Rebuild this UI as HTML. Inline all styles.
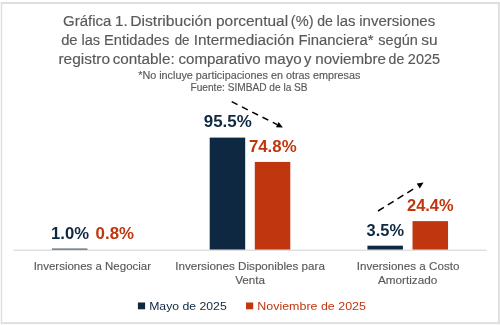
<!DOCTYPE html>
<html><head><meta charset="utf-8"><style>
html,body{margin:0;padding:0;background:#fff;width:500px;height:325px;overflow:hidden;}
svg{display:block;position:absolute;left:0;top:0;font-family:"Liberation Sans", sans-serif;}
#c{filter:blur(0.35px);}
</style></head><body>
<svg width="500" height="325" viewBox="0 0 500 325">
<rect x="0.8" y="2" width="1.4" height="322.2" fill="#dedede"/>
<rect x="498" y="2" width="1.8" height="322.2" fill="#dedede"/>
<rect x="0.8" y="2" width="499" height="2" fill="#dedede"/>
<rect x="0.8" y="322.2" width="499" height="1.9" fill="#dedede"/>
</svg>
<svg id="c" width="500" height="325" viewBox="0 0 500 325">
<text x="63.05" y="26.00" font-size="14" font-weight="normal" fill="#595959" stroke="#595959" stroke-width="0.15" textLength="48.38" lengthAdjust="spacingAndGlyphs">Gráfica</text>
<text x="115.02" y="26.00" font-size="14" font-weight="normal" fill="#595959" stroke="#595959" stroke-width="0.15" textLength="12.55" lengthAdjust="spacingAndGlyphs">1.</text>
<text x="130.17" y="26.00" font-size="14" font-weight="normal" fill="#595959" stroke="#595959" stroke-width="0.15" textLength="81.88" lengthAdjust="spacingAndGlyphs">Distribución</text>
<text x="216.01" y="26.00" font-size="14" font-weight="normal" fill="#595959" stroke="#595959" stroke-width="0.15" textLength="72.07" lengthAdjust="spacingAndGlyphs">porcentual</text>
<text x="290.86" y="26.00" font-size="14" font-weight="normal" fill="#595959" stroke="#595959" stroke-width="0.15" textLength="22.64" lengthAdjust="spacingAndGlyphs">(%)</text>
<text x="317.20" y="26.00" font-size="14" font-weight="normal" fill="#595959" stroke="#595959" stroke-width="0.15" textLength="15.68" lengthAdjust="spacingAndGlyphs">de</text>
<text x="336.44" y="26.00" font-size="14" font-weight="normal" fill="#595959" stroke="#595959" stroke-width="0.15" textLength="19.09" lengthAdjust="spacingAndGlyphs">las</text>
<text x="359.24" y="26.00" font-size="14" font-weight="normal" fill="#595959" stroke="#595959" stroke-width="0.15" textLength="75.92" lengthAdjust="spacingAndGlyphs">inversiones</text>
<text x="61.17" y="45.30" font-size="14" font-weight="normal" fill="#595959" stroke="#595959" stroke-width="0.15" textLength="16.44" lengthAdjust="spacingAndGlyphs">de</text>
<text x="81.46" y="45.30" font-size="14" font-weight="normal" fill="#595959" stroke="#595959" stroke-width="0.15" textLength="18.66" lengthAdjust="spacingAndGlyphs">las</text>
<text x="104.05" y="45.30" font-size="14" font-weight="normal" fill="#595959" stroke="#595959" stroke-width="0.15" textLength="65.24" lengthAdjust="spacingAndGlyphs">Entidades</text>
<text x="174.63" y="45.30" font-size="14" font-weight="normal" fill="#595959" stroke="#595959" stroke-width="0.15" textLength="14.81" lengthAdjust="spacingAndGlyphs">de</text>
<text x="193.78" y="45.30" font-size="14" font-weight="normal" fill="#595959" stroke="#595959" stroke-width="0.15" textLength="100.44" lengthAdjust="spacingAndGlyphs">Intermediación</text>
<text x="298.44" y="45.30" font-size="14" font-weight="normal" fill="#595959" stroke="#595959" stroke-width="0.15" textLength="74.99" lengthAdjust="spacingAndGlyphs">Financiera*</text>
<text x="378.39" y="45.30" font-size="14" font-weight="normal" fill="#595959" stroke="#595959" stroke-width="0.15" textLength="39.39" lengthAdjust="spacingAndGlyphs">según</text>
<text x="421.16" y="45.30" font-size="14" font-weight="normal" fill="#595959" stroke="#595959" stroke-width="0.15" textLength="16.33" lengthAdjust="spacingAndGlyphs">su</text>
<text x="58.40" y="64.10" font-size="14" font-weight="normal" fill="#595959" stroke="#595959" stroke-width="0.15" textLength="51.64" lengthAdjust="spacingAndGlyphs">registro</text>
<text x="112.75" y="64.10" font-size="14" font-weight="normal" fill="#595959" stroke="#595959" stroke-width="0.15" textLength="61.89" lengthAdjust="spacingAndGlyphs">contable:</text>
<text x="178.55" y="64.10" font-size="14" font-weight="normal" fill="#595959" stroke="#595959" stroke-width="0.15" textLength="82.04" lengthAdjust="spacingAndGlyphs">comparativo</text>
<text x="264.63" y="64.10" font-size="14" font-weight="normal" fill="#595959" stroke="#595959" stroke-width="0.15" textLength="37.06" lengthAdjust="spacingAndGlyphs">mayo</text>
<text x="304.09" y="64.10" font-size="14" font-weight="normal" fill="#595959" stroke="#595959" stroke-width="0.15" textLength="7.41" lengthAdjust="spacingAndGlyphs">y</text>
<text x="315.23" y="64.10" font-size="14" font-weight="normal" fill="#595959" stroke="#595959" stroke-width="0.15" textLength="70.69" lengthAdjust="spacingAndGlyphs">noviembre</text>
<text x="388.60" y="64.10" font-size="14" font-weight="normal" fill="#595959" stroke="#595959" stroke-width="0.15" textLength="15.68" lengthAdjust="spacingAndGlyphs">de</text>
<text x="407.88" y="64.10" font-size="14" font-weight="normal" fill="#595959" stroke="#595959" stroke-width="0.15" textLength="32.19" lengthAdjust="spacingAndGlyphs">2025</text>
<text x="249.30" y="78.60" text-anchor="middle" font-size="10" font-weight="normal" fill="#595959" stroke="#595959" stroke-width="0.15" textLength="222.20" lengthAdjust="spacingAndGlyphs">*No incluye participaciones en otras empresas</text>
<text x="249.05" y="91.30" text-anchor="middle" font-size="10" font-weight="normal" fill="#595959" stroke="#595959" stroke-width="0.15" textLength="117.10" lengthAdjust="spacingAndGlyphs">Fuente: SIMBAD de la SB</text>
<rect x="51.96650000000001" y="248.63" width="35.50" height="1.17" fill="#0E2841"/>
<rect x="209.6995" y="137.60" width="35.50" height="112.20" fill="#0E2841"/>
<rect x="254.79950000000002" y="161.92" width="35.50" height="87.88" fill="#C0360F"/>
<rect x="367.43249999999995" y="245.69" width="35.50" height="4.11" fill="#0E2841"/>
<rect x="412.53249999999997" y="221.13" width="35.50" height="28.67" fill="#C0360F"/>
<rect x="13.4" y="249.6" width="473.2" height="1.2" fill="#d9d9d9"/>
<text x="70.00" y="239.20" text-anchor="middle" font-size="15.8" font-weight="bold" fill="#0E2841" textLength="38.00" lengthAdjust="spacingAndGlyphs">1.0%</text>
<text x="114.80" y="239.20" text-anchor="middle" font-size="15.8" font-weight="bold" fill="#C0360F" textLength="38.40" lengthAdjust="spacingAndGlyphs">0.8%</text>
<text x="227.80" y="127.30" text-anchor="middle" font-size="15.8" font-weight="bold" fill="#0E2841" textLength="48.00" lengthAdjust="spacingAndGlyphs">95.5%</text>
<text x="272.75" y="151.50" text-anchor="middle" font-size="15.8" font-weight="bold" fill="#C0360F" textLength="47.70" lengthAdjust="spacingAndGlyphs">74.8%</text>
<text x="385.30" y="236.20" text-anchor="middle" font-size="15.8" font-weight="bold" fill="#0E2841" textLength="37.40" lengthAdjust="spacingAndGlyphs">3.5%</text>
<text x="430.30" y="211.30" text-anchor="middle" font-size="15.8" font-weight="bold" fill="#C0360F" textLength="46.60" lengthAdjust="spacingAndGlyphs">24.4%</text>
<text x="92.35" y="269.70" text-anchor="middle" font-size="11.6" font-weight="normal" fill="#595959" stroke="#595959" stroke-width="0.15" textLength="117.30" lengthAdjust="spacingAndGlyphs">Inversiones a Negociar</text>
<text x="250.05" y="269.90" text-anchor="middle" font-size="11.6" font-weight="normal" fill="#595959" stroke="#595959" stroke-width="0.15" textLength="149.70" lengthAdjust="spacingAndGlyphs">Inversiones Disponibles para</text>
<text x="250.15" y="284.30" text-anchor="middle" font-size="11.6" font-weight="normal" fill="#595959" stroke="#595959" stroke-width="0.15" textLength="29.90" lengthAdjust="spacingAndGlyphs">Venta</text>
<text x="408.05" y="269.80" text-anchor="middle" font-size="11.6" font-weight="normal" fill="#595959" stroke="#595959" stroke-width="0.15" textLength="102.70" lengthAdjust="spacingAndGlyphs">Inversiones a Costo</text>
<text x="407.65" y="284.30" text-anchor="middle" font-size="11.6" font-weight="normal" fill="#595959" stroke="#595959" stroke-width="0.15" textLength="59.30" lengthAdjust="spacingAndGlyphs">Amortizado</text>
<rect x="137.9" y="302.5" width="7.2" height="6.8" fill="#0E2841"/>
<text x="187.95" y="309.50" text-anchor="middle" font-size="11.5" font-weight="normal" fill="#0E2841" textLength="77.50" lengthAdjust="spacingAndGlyphs">Mayo de 2025</text>
<rect x="246" y="302.5" width="7.2" height="6.8" fill="#C0360F"/>
<text x="311.60" y="309.50" text-anchor="middle" font-size="11.5" font-weight="normal" fill="#C0360F" textLength="108.60" lengthAdjust="spacingAndGlyphs">Noviembre de 2025</text>
<line x1="231.70" y1="101.70" x2="277.27" y2="124.66" stroke="#000" stroke-width="1.5" stroke-dasharray="6.5 5"/><polygon points="282.90,127.50 275.97,127.25 278.58,122.08" fill="#000"/>
<line x1="378.00" y1="211.00" x2="413.31" y2="189.01" stroke="#000" stroke-width="1.5" stroke-dasharray="6.9 4.6"/><polygon points="423.60,182.60 419.78,188.39 416.72,183.47" fill="#000"/>
</svg>
</body></html>
